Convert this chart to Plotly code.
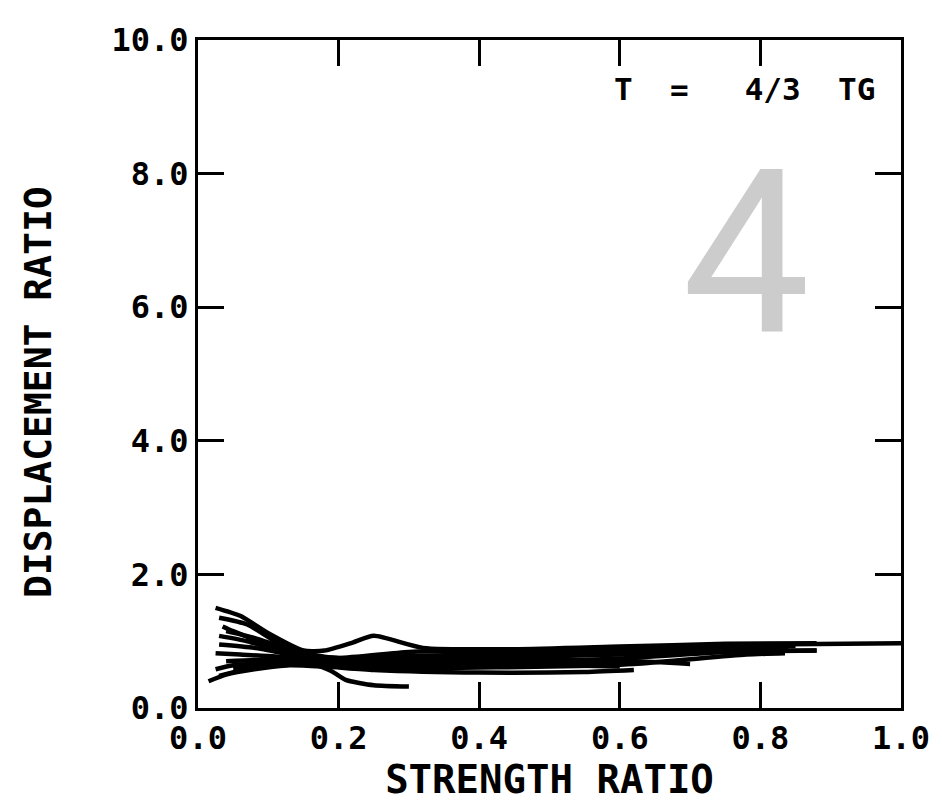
import plotly.graph_objects as go

# ---- data ----
x_ticks = [0.0, 0.2, 0.4, 0.6, 0.8, 1.0]
x_tick_labels = ["0.0", "0.2", "0.4", "0.6", "0.8", "1.0"]
y_ticks = [0.0, 2.0, 4.0, 6.0, 8.0, 10.0]
y_tick_labels = ["0.0", "2.0", "4.0", "6.0", "8.0", "10.0"]

c1_x = [0.025, 0.06, 0.10, 0.15, 0.18, 0.22, 0.25, 0.32, 0.45, 0.60, 0.75, 0.88]
c1_y = [1.50, 1.38, 1.12, 0.86, 0.86, 0.98, 1.08, 0.90, 0.88, 0.92, 0.96, 0.97]
c2_x = [0.03, 0.07, 0.11, 0.16, 0.20, 0.30, 0.45, 0.60, 0.80, 1.00]
c2_y = [1.35, 1.25, 1.00, 0.80, 0.75, 0.84, 0.86, 0.89, 0.95, 0.97]
c3_x = [0.035, 0.05, 0.10, 0.16, 0.20, 0.30, 0.50, 0.65, 0.84]
c3_y = [1.22, 1.15, 0.95, 0.78, 0.72, 0.78, 0.82, 0.86, 0.90]
c4_x = [0.03, 0.07, 0.12, 0.17, 0.25, 0.40, 0.60, 0.72, 0.88]
c4_y = [1.08, 1.00, 0.85, 0.74, 0.72, 0.75, 0.80, 0.85, 0.86]
c5_x = [0.025, 0.06, 0.11, 0.16, 0.22, 0.35, 0.50, 0.62]
c5_y = [0.82, 0.80, 0.77, 0.72, 0.68, 0.70, 0.72, 0.72]
c6_x = [0.03, 0.08, 0.13, 0.18, 0.25, 0.40, 0.55, 0.62, 0.70]
c6_y = [0.95, 0.90, 0.80, 0.70, 0.65, 0.65, 0.68, 0.70, 0.66]
c7_x = [0.025, 0.05, 0.10, 0.15, 0.19, 0.21, 0.25, 0.30]
c7_y = [0.58, 0.64, 0.67, 0.70, 0.55, 0.42, 0.34, 0.32]
c8_x = [0.015, 0.04, 0.08, 0.13, 0.18, 0.25, 0.40, 0.55, 0.62]
c8_y = [0.40, 0.50, 0.58, 0.64, 0.62, 0.57, 0.53, 0.54, 0.57]
c9_x = [0.03, 0.06, 0.10, 0.15, 0.22, 0.35, 0.50, 0.62, 0.78, 0.835]
c9_y = [0.48, 0.56, 0.62, 0.66, 0.60, 0.60, 0.62, 0.66, 0.80, 0.82]
c10_x = [0.04, 0.09, 0.14, 0.20, 0.30, 0.45, 0.60, 0.75, 0.88]
c10_y = [0.70, 0.72, 0.72, 0.68, 0.66, 0.68, 0.74, 0.84, 0.86]
c11_x = [0.04, 0.08, 0.13, 0.18, 0.28, 0.40, 0.60, 0.80, 0.85]
c11_y = [1.15, 1.05, 0.88, 0.76, 0.74, 0.80, 0.84, 0.92, 0.93]
c12_x = [0.05, 0.10, 0.15, 0.22, 0.30, 0.50, 0.60]
c12_y = [0.60, 0.65, 0.68, 0.64, 0.62, 0.64, 0.62]

curves = [(c1_x, c1_y), (c2_x, c2_y), (c3_x, c3_y), (c4_x, c4_y), (c5_x, c5_y),
          (c6_x, c6_y), (c7_x, c7_y), (c8_x, c8_y), (c9_x, c9_y), (c10_x, c10_y),
          (c11_x, c11_y), (c12_x, c12_y)]

FONT = "DejaVu Sans Mono"

fig = go.Figure()
for cx, cy in curves:
    fig.add_trace(go.Scatter(x=cx, y=cy, mode="lines",
                             line=dict(color="black", width=4.5, shape="spline", smoothing=0.6),
                             showlegend=False, hoverinfo="skip"))

axis_common = dict(showline=True, linecolor="black", linewidth=3, mirror="allticks",
                   ticks="inside", ticklen=26, tickwidth=3, tickcolor="black",
                   showgrid=False, zeroline=False,
                   tickfont=dict(family=FONT, size=32, color="black", weight="bold"))

fig.update_xaxes(range=[0, 1.0], tickvals=x_ticks, ticktext=x_tick_labels,
                 title=dict(text="STRENGTH RATIO", standoff=8,
                            font=dict(family=FONT, size=39, color="black", weight="bold")),
                 **axis_common)
fig.update_yaxes(range=[0, 10.0], tickvals=y_ticks, ticktext=y_tick_labels,
                 **axis_common)

# y-axis title placed as a rotated annotation to match its position in the reference
fig.add_annotation(x=-0.2266, y=0.4725, xref="paper", yref="paper",
                   xanchor="center", yanchor="middle", textangle=-90,
                   text="DISPLACEMENT RATIO", showarrow=False,
                   font=dict(family=FONT, size=38, color="black", weight="bold"))

fig.add_annotation(x=0.966, y=9.26, xref="x", yref="y", xanchor="right", yanchor="middle",
                   text="T  =   4/3  TG", showarrow=False,
                   font=dict(family=FONT, size=31, color="black", weight="bold"))
fig.add_annotation(x=0.78, y=6.80, xref="x", yref="y", xanchor="center", yanchor="middle",
                   text="4", showarrow=False,
                   font=dict(family="Roboto", size=228, color="#cccccc"))

fig.update_layout(width=942, height=805, margin=dict(l=198, r=38, t=40, b=92),
                  plot_bgcolor="white", paper_bgcolor="white")

fig.write_html("out.html")
